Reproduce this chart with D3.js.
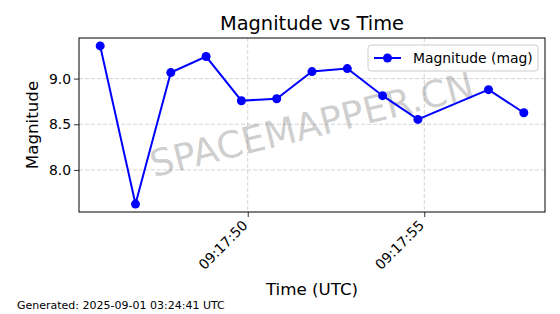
<!DOCTYPE html>
<html>
<head>
<meta charset="utf-8">
<script src="https://cdn.jsdelivr.net/npm/d3@7"></script>
<style>
  body { margin: 0; background: #fff; }
  text { font-family: "DejaVu Sans", sans-serif; }
</style>
</head>
<body>
<div class="chart"></div>
<script>
const times = [
    "2025-09-01T09:17:45.82Z", "2025-09-01T09:17:46.82Z", "2025-09-01T09:17:47.82Z",
    "2025-09-01T09:17:48.82Z", "2025-09-01T09:17:49.82Z", "2025-09-01T09:17:50.82Z",
    "2025-09-01T09:17:51.82Z", "2025-09-01T09:17:52.82Z", "2025-09-01T09:17:53.82Z",
    "2025-09-01T09:17:54.82Z", "2025-09-01T09:17:56.82Z", "2025-09-01T09:17:57.82Z"
];
const magnitudes = [9.358, 7.626, 9.066, 9.242, 8.758, 8.780, 9.077, 9.110, 8.813, 8.553, 8.879, 8.626];
const yTicks = [8.0, 8.5, 9.0];
const xTickSeconds = 5;

const width = 560;
const height = 314;
const margin = { top: 38, right: 15, bottom: 102, left: 79 };
const innerWidth = width - margin.left - margin.right;
const innerHeight = height - margin.top - margin.bottom;

const data = times.map((t, i) => ({ t: new Date(t), v: magnitudes[i] }));

const svg = d3.select(".chart")
    .append("svg")
    .attr("width", width)
    .attr("height", height);

const g = svg.append("g")
    .attr("transform", `translate(${margin.left}, ${margin.top})`);

// matplotlib-style 5% padding on both axes
const [t0, t1] = d3.extent(data, d => +d.t);
const tPad = (t1 - t0) * 0.05;
const [v0, v1] = d3.extent(data, d => d.v);
const vPad = (v1 - v0) * 0.05;

const xScale = d3.scaleUtc().domain([t0 - tPad, t1 + tPad]).range([0, innerWidth]);
const yScale = d3.scaleLinear().domain([v0 - vPad, v1 + vPad]).range([innerHeight, 0]);

const xTicks = xScale.ticks(d3.utcSecond.every(xTickSeconds));

// grid
g.append("g")
    .selectAll("line")
    .data(xTicks)
    .enter()
    .append("line")
    .attr("x1", d => xScale(d)).attr("x2", d => xScale(d))
    .attr("y1", 0).attr("y2", innerHeight)
    .attr("stroke", "#b0b0b0").attr("stroke-opacity", 0.7)
    .attr("stroke-width", 0.8).attr("stroke-dasharray", "4,2");

g.append("g")
    .selectAll("line")
    .data(yTicks)
    .enter()
    .append("line")
    .attr("x1", 0).attr("x2", innerWidth)
    .attr("y1", d => yScale(d)).attr("y2", d => yScale(d))
    .attr("stroke", "#b0b0b0").attr("stroke-opacity", 0.7)
    .attr("stroke-width", 0.8).attr("stroke-dasharray", "4,2");

// watermark
g.append("text")
    .attr("transform", `translate(${innerWidth / 2}, ${innerHeight / 2}) rotate(-14)`)
    .attr("text-anchor", "middle")
    .attr("dominant-baseline", "central")
    .attr("font-size", "37px")
    .attr("fill", "#808080")
    .attr("fill-opacity", 0.4)
    .text("SPACEMAPPER.CN");

// axes
const xAxis = g.append("g")
    .attr("transform", `translate(0,${innerHeight})`)
    .call(d3.axisBottom(xScale).tickValues(xTicks).tickFormat(d3.utcFormat("%H:%M:%S")).tickSize(5).tickSizeOuter(0));
xAxis.selectAll("text")
    .attr("font-size", "13.9px")
    .attr("fill", "#000")
    .attr("text-anchor", "end")
    .attr("dy", null)
    .attr("transform", "translate(-7,7) rotate(-45)")
    .attr("y", 0).attr("x", 0)
    .attr("dominant-baseline", "hanging");

const yAxis = g.append("g")
    .call(d3.axisLeft(yScale).tickValues(yTicks).tickFormat(d3.format(".1f")).tickSize(5).tickSizeOuter(0));
yAxis.selectAll("text").attr("font-size", "13.9px").attr("fill", "#000").attr("x", -8);

g.selectAll(".domain").remove();
g.selectAll(".tick line").attr("stroke", "#000").attr("stroke-width", 0.8);

g.append("rect")
    .attr("width", innerWidth).attr("height", innerHeight)
    .attr("fill", "none").attr("stroke", "#000").attr("stroke-width", 1);

// series
const line = d3.line().x(d => xScale(d.t)).y(d => yScale(d.v));
g.append("path")
    .datum(data)
    .attr("d", line)
    .attr("fill", "none")
    .attr("stroke", "#0000ff")
    .attr("stroke-width", 2);

g.selectAll(".dot")
    .data(data)
    .enter()
    .append("circle")
    .attr("class", "dot")
    .attr("cx", d => xScale(d.t))
    .attr("cy", d => yScale(d.v))
    .attr("r", 4.5)
    .attr("fill", "#0000ff");

// legend
const legend = g.append("g").attr("transform", `translate(${innerWidth - 177}, 7)`);
legend.append("rect")
    .attr("width", 170).attr("height", 26).attr("rx", 3)
    .attr("fill", "#fff").attr("fill-opacity", 0.8)
    .attr("stroke", "#ccc");
legend.append("line")
    .attr("x1", 6).attr("x2", 33).attr("y1", 13).attr("y2", 13)
    .attr("stroke", "#0000ff").attr("stroke-width", 2);
legend.append("circle").attr("cx", 19.5).attr("cy", 13).attr("r", 4.5).attr("fill", "#0000ff");
legend.append("text")
    .attr("x", 45).attr("y", 13)
    .attr("dominant-baseline", "central")
    .attr("font-size", "13.9px")
    .text("Magnitude (mag)");

// titles
svg.append("text")
    .attr("x", margin.left + innerWidth / 2).attr("y", 30)
    .attr("text-anchor", "middle")
    .attr("font-size", "19.4px")
    .text("Magnitude vs Time");

svg.append("text")
    .attr("x", margin.left + innerWidth / 2).attr("y", 295)
    .attr("text-anchor", "middle")
    .attr("font-size", "16.7px")
    .text("Time (UTC)");

svg.append("text")
    .attr("transform", `translate(38, ${margin.top + innerHeight / 2}) rotate(-90)`)
    .attr("text-anchor", "middle")
    .attr("font-size", "16.7px")
    .text("Magnitude");

svg.append("text")
    .attr("x", 17).attr("y", 309)
    .attr("font-size", "11px")
    .text("Generated: 2025-09-01 03:24:41 UTC");
</script>
</body>
</html>
